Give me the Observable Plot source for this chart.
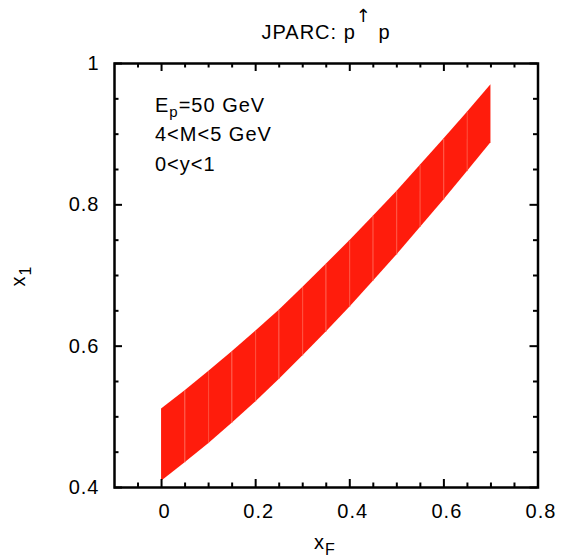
<!DOCTYPE html>
<html>
<head>
<meta charset="utf-8">
<script src="https://cdn.jsdelivr.net/npm/d3@7"></script>
<script src="https://cdn.jsdelivr.net/npm/@observablehq/plot@0.6"></script>
<style>
  html, body { margin: 0; padding: 0; background: #fff; }
  #chart svg text { letter-spacing: 1px; }
</style>
</head>
<body>
<div id="chart"></div>
<script>
// ---- data ----
const xF      = [0, 0.05, 0.1, 0.15, 0.2, 0.25, 0.3, 0.35, 0.4, 0.45, 0.5, 0.55, 0.6, 0.65, 0.7];
const x1Lower = [0.409, 0.435, 0.462, 0.491, 0.521, 0.553, 0.586, 0.620, 0.655, 0.692, 0.729, 0.768, 0.807, 0.847, 0.888];
const x1Upper = [0.511, 0.537, 0.564, 0.592, 0.621, 0.651, 0.683, 0.716, 0.749, 0.784, 0.819, 0.856, 0.893, 0.931, 0.970];

const xMajorTicks = [0, 0.2, 0.4, 0.6, 0.8];
const xTickLabels = ["0", "0.2", "0.4", "0.6", "0.8"];
const xMinorTicks = [-0.05, 0.05, 0.1, 0.15, 0.25, 0.3, 0.35, 0.45, 0.5, 0.55, 0.65, 0.7, 0.75];
const yMajorTicks = [0.4, 0.6, 0.8, 1];
const yTickLabels = ["0.4", "0.6", "0.8", "1"];
const yMinorTicks = [0.45, 0.5, 0.55, 0.65, 0.7, 0.75, 0.85, 0.9, 0.95];

const titleText = ["JPARC: p", "\u2191", " p"];
const infoLines = ["4<M<5 GeV", "0<y<1"];

// ---- build tables ----
const bandRows = [];
for (let i = 0; i < xF.length - 1; i++) {
  for (const j of [i, i + 1]) {
    bandRows.push({seg: i, x: xF[j], lo: x1Lower[j], hi: x1Upper[j]});
  }
}
const seamRows = xF.slice(1, -1).map((x, k) => ({x, lo: x1Lower[k + 1], hi: x1Upper[k + 1]}));

const RED = "#ff1c0c";
const font = "'Liberation Sans', Arial, Helvetica, sans-serif";

const W = 562, H = 560, mT = 63, mB = 73, mL = 114, mR = 24.5;
const innerW = W - mL - mR, innerH = H - mT - mB;

// inward tick marks built from rules with insets
function tickRules(values, side, len) {
  const o = {stroke: "#000", strokeWidth: 2};
  if (side === "bottom") return Plot.ruleX(values, {x: d => d, insetTop: innerH - len, ...o});
  if (side === "top")    return Plot.ruleX(values, {x: d => d, insetBottom: innerH - len, ...o});
  if (side === "left")   return Plot.ruleY(values, {y: d => d, insetRight: innerW - len, ...o});
  return Plot.ruleY(values, {y: d => d, insetLeft: innerW - len, ...o});
}

const chart = Plot.plot({
  width: W,
  height: H,
  marginTop: mT,
  marginBottom: mB,
  marginLeft: mL,
  marginRight: mR,
  style: {fontFamily: font, fontSize: "20px", background: "#fff"},
  x: {domain: [-0.1, 0.8]},
  y: {domain: [0.4, 1]},
  marks: [
    Plot.areaY(bandRows, {x: "x", y1: "lo", y2: "hi", z: "seg", fill: RED}),
    Plot.ruleX(seamRows, {x: "x", y1: "lo", y2: "hi", stroke: "#ff5a46", strokeWidth: 0.7}),
    // tick marks (inward, mirrored on all sides)
    tickRules(xMajorTicks, "bottom", 8), tickRules(xMinorTicks, "bottom", 4.5),
    tickRules(xMajorTicks, "top", 8),    tickRules(xMinorTicks, "top", 4.5),
    tickRules(yMajorTicks, "left", 8),   tickRules(yMinorTicks, "left", 4.5),
    tickRules(yMajorTicks, "right", 8),  tickRules(yMinorTicks, "right", 4.5),
    // tick labels
    Plot.axisX(xMajorTicks, {anchor: "bottom", tickSize: 0, tickPadding: 16, dx: 3, label: null,
      tickFormat: d => xTickLabels[xMajorTicks.indexOf(d)]}),
    Plot.axisY(yMajorTicks, {anchor: "left", tickSize: 0, tickPadding: 15, label: null,
      tickFormat: d => yTickLabels[yMajorTicks.indexOf(d)]}),
    Plot.frame({stroke: "#000", strokeWidth: 2.5})
  ]
});

const svg = d3.select(chart);

// title
const t = svg.append("text").attr("x", 326).attr("y", 39).attr("text-anchor", "middle").attr("fill", "#000");
t.append("tspan").text(titleText[0]);
t.append("tspan").attr("dy", -17).style("font-size", "18px")
  .style("font-family", "'DejaVu Sans', sans-serif").text(titleText[1]);
t.append("tspan").attr("dy", 17).text(titleText[2]);

// inset text
const e = svg.append("text").attr("x", 155).attr("y", 112).attr("text-anchor", "start").attr("fill", "#000");
e.append("tspan").text("E");
e.append("tspan").attr("dy", 5).style("font-size", "15px").text("p");
e.append("tspan").attr("dy", -5).text("=50 GeV");
infoLines.forEach((s, i) => {
  svg.append("text").attr("x", 155).attr("y", 141 + 29.5 * i)
    .attr("text-anchor", "start").attr("fill", "#000").text(s);
});

// axis labels
const xl = svg.append("text").attr("x", 325).attr("y", 549).attr("text-anchor", "middle").attr("fill", "#000");
xl.append("tspan").text("x");
xl.append("tspan").attr("dy", 6).style("font-size", "16px").text("F");

const yl = svg.append("text").attr("transform", "translate(25,276) rotate(-90)").attr("text-anchor", "middle").attr("fill", "#000");
yl.append("tspan").text("x");
yl.append("tspan").attr("dy", 6).style("font-size", "16px").text("1");

document.getElementById("chart").appendChild(chart);
</script>
</body>
</html>
